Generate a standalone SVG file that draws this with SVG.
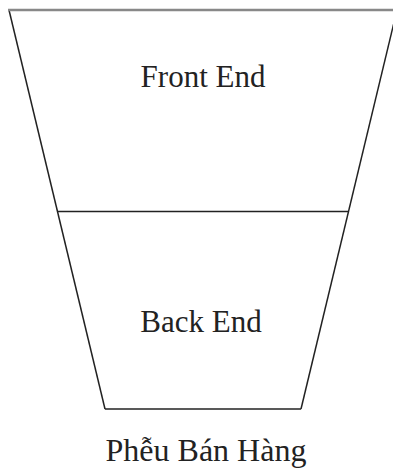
<svg xmlns="http://www.w3.org/2000/svg" width="393" height="472" viewBox="0 0 393 472">
<style>
.edge{stroke:#222;stroke-width:1.5;fill:none}
.lbl{font-family:"Liberation Serif","Times New Roman",serif;font-size:31px;fill:#222;text-anchor:middle}
</style>
<rect width="393" height="472" fill="#fff"/>
<g id="connectors">
<line x1="9" y1="10" x2="105" y2="409" class="edge"/>
<line x1="397" y1="10" x2="301" y2="409" class="edge"/>
<line x1="105" y1="409" x2="301" y2="409" class="edge" stroke="#555"/>
<line x1="57.5" y1="211.5" x2="348.5" y2="211.5" class="edge"/>
<line x1="8" y1="10" x2="393" y2="10" stroke="#888" stroke-width="2.5"/>
</g>
<g id="front-end"><text x="203" y="87" class="lbl">Front End</text></g>
<g id="back-end"><text x="201" y="332" class="lbl">Back End</text></g>
<g id="title"><text x="206" y="461" class="lbl" style="font-size:32px">Phễu Bán Hàng</text></g>
</svg>
